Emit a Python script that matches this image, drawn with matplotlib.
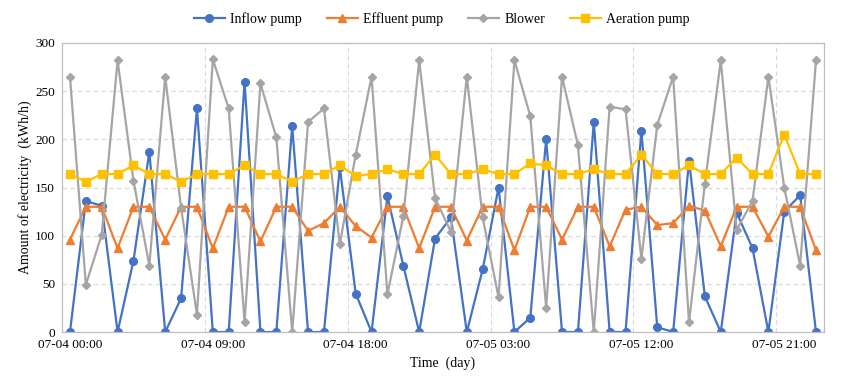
import matplotlib
matplotlib.use("Agg")
import matplotlib.pyplot as plt

plt.rcParams['font.family'] = ['Liberation Serif', 'DejaVu Serif']

# hourly data, 07-04 00:00 .. 07-05 23:00
hours = list(range(48))
tick_labels = ["07-04 00:00", "07-04 09:00", "07-04 18:00",
               "07-05 03:00", "07-05 12:00", "07-05 21:00"]

inflow = [0, 136, 131, 0, 74, 187, 0, 35, 232, 0, 0, 260, 0, 0, 214, 0,
          0, 171, 40, 0, 141, 69, 0, 97, 119, 0, 65, 150, 0, 15, 200, 0,
          0, 218, 0, 0, 209, 5, 0, 178, 37, 0, 124, 87, 0, 125, 142, 0]
effluent = [96, 130, 130, 87, 130, 130, 96, 130, 130, 87, 130, 130, 94, 130, 130, 105,
            113, 130, 110, 98, 130, 130, 87, 130, 130, 95, 130, 130, 85, 130, 130, 96,
            130, 130, 89, 127, 130, 111, 113, 131, 126, 89, 130, 130, 99, 130, 130, 85]
blower = [265, 49, 101, 282, 157, 69, 265, 129, 18, 283, 232, 10, 258, 202, 0, 218,
          232, 91, 184, 265, 39, 120, 282, 139, 104, 265, 119, 36, 282, 224, 25, 265,
          194, 0, 234, 231, 76, 215, 265, 10, 154, 282, 106, 136, 265, 150, 69, 282]
aeration = [164, 156, 164, 164, 173, 164, 164, 156, 164, 164, 164, 173, 164, 164, 156, 164,
            164, 173, 162, 164, 169, 164, 164, 184, 164, 164, 169, 164, 164, 175, 173, 164,
            164, 169, 164, 164, 184, 164, 164, 173, 164, 164, 181, 164, 164, 205, 164, 164]

fig = plt.figure(figsize=(8.58, 3.87), dpi=100)
ax = fig.add_axes([0.0723, 0.142, 0.888, 0.747])

ax.plot(hours, inflow, color='#4472C4', marker='o', markersize=5.5, lw=1.6, label='Inflow pump')
ax.plot(hours, effluent, color='#ED7D31', marker='^', markersize=6, lw=1.6, label='Effluent pump')
ax.plot(hours, blower, color='#A5A5A5', marker='D', markersize=3.6, lw=1.6, label='Blower')
ax.plot(hours, aeration, color='#FFC000', marker='s', markersize=6, lw=1.6, label='Aeration pump')

ax.set_xlim(-0.5, 47.5)
ax.set_ylim(0, 300)
ax.set_yticks(range(0, 301, 50))
ax.set_xticks(hours[::9])
ax.set_xticklabels(tick_labels)
ax.tick_params(length=0, labelsize=9.5, pad=5)

for y in range(50, 300, 50):
    ax.axhline(y, color='#D9D9D9', lw=0.8, ls=(0, (4, 3)), zorder=0)
for x in [8.5, 17.5, 26.5, 35.5, 44.5]:
    ax.axvline(x, color='#D9D9D9', lw=0.8, ls=(0, (4, 3)), zorder=0)

for s in ax.spines.values():
    s.set_color('#BFBFBF')
    s.set_linewidth(0.9)

ax.set_xlabel('Time  (day)', fontsize=10, labelpad=4)
ax.set_ylabel('Amount of electricity  (kWh/h)', fontsize=10, labelpad=2)

fig.legend(loc='upper center', bbox_to_anchor=(0.515, 1.0), ncol=4, frameon=False,
           fontsize=10, handlelength=2.2, columnspacing=1.8, handletextpad=0.4)

fig.savefig('out.png', dpi=100)
